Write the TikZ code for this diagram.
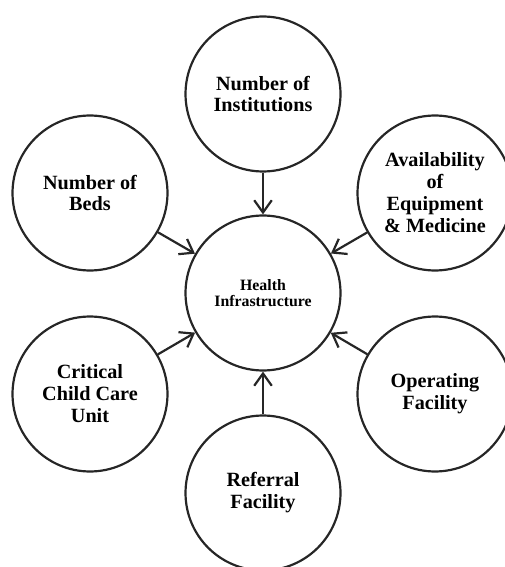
\documentclass[tikz,border=0pt]{standalone}
\usepackage{fontspec}
\setmainfont{Liberation Serif}
\usepackage{tikz}
\usepackage{xcolor}
\usetikzlibrary{positioning, arrows.meta}
\tikzset{
    factor/.style={draw=black!85, circle, line width=1.25pt, minimum size=3.1cm, inner sep=0pt, align=center, font=\bfseries\fontsize{11.5}{12.5}\selectfont},
    hub/.style={factor, font=\bfseries\fontsize{9}{8.7}\selectfont},
    feed/.style={-{Straight Barb[length=7pt, width=10pt]}, line width=1.25pt, draw=black!85}
}
\begin{document}
\begin{tikzpicture}[x=0.02cm, y=-0.02cm]
\useasboundingbox (0,0) rectangle (504,567);

% --- Centre ---
\node[hub] (hi) at (263,293) {Health\\Infrastructure};

% --- Surrounding factors ---
\node[factor] (inst)  at (263,94)  {Number of\\Institutions};
\node[factor] (beds)  at (90,193)  {Number of\\Beds};
\node[factor] (equip) at (435,193) {Availability\\of\\Equipment\\\& Medicine};
\node[factor] (ccu)   at (90,394)  {Critical\\Child Care\\Unit};
\node[factor] (opf)   at (435,394) {Operating\\Facility};
\node[factor] (ref)   at (263,493) {Referral\\Facility};

% --- Links into the centre ---
\draw[feed] (inst)  -- (hi);
\draw[feed] (beds)  -- (hi);
\draw[feed] (equip) -- (hi);
\draw[feed] (ccu)   -- (hi);
\draw[feed] (opf)   -- (hi);
\draw[feed] (ref)   -- (hi);

\end{tikzpicture}
\end{document}
